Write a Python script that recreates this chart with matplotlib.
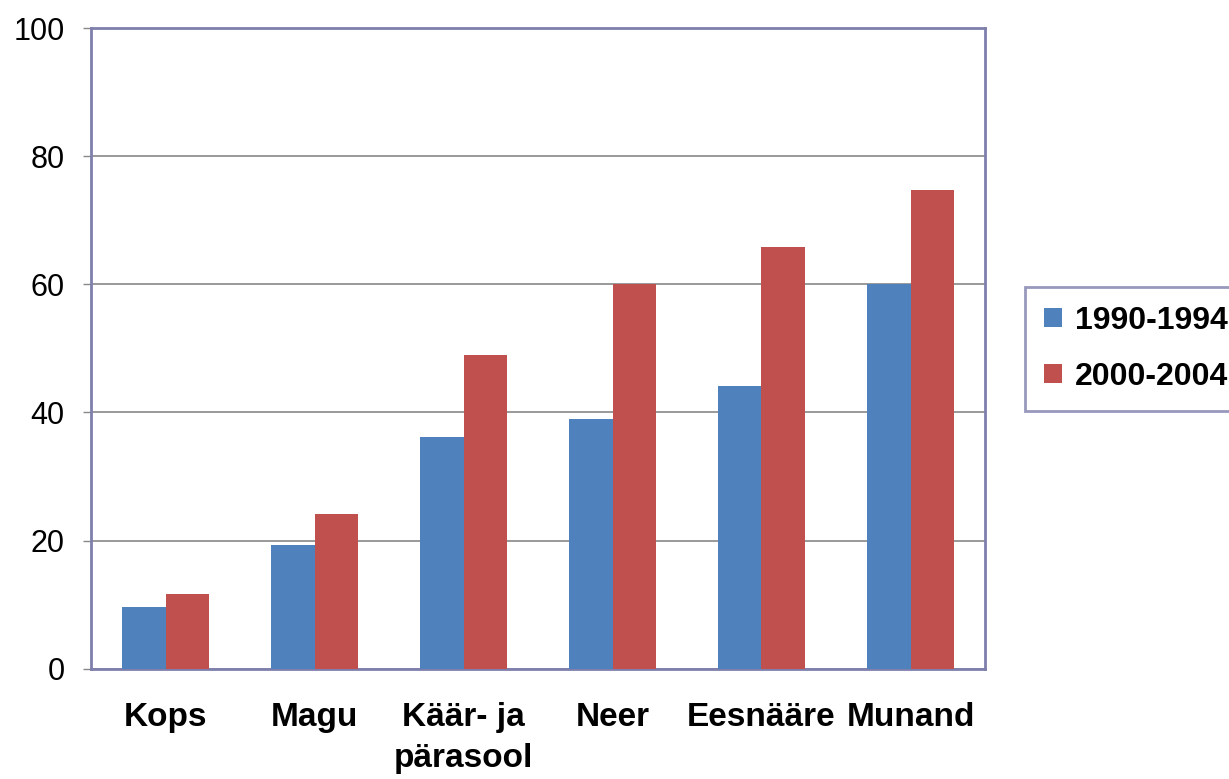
import matplotlib
matplotlib.use("Agg")
import matplotlib.pyplot as plt
import numpy as np

categories = ["Kops", "Magu", "Käär- ja\npärasool", "Neer", "Eesnääre", "Munand"]
series_names = ["1990-1994", "2000-2004"]
values_1990 = [9.6, 19.3, 36.2, 38.9, 44.2, 60.0]
values_2000 = [11.6, 24.1, 49.0, 60.0, 65.8, 74.7]
yticks = [0, 20, 40, 60, 80, 100]

plt.rcParams['font.family'] = ['Liberation Sans', 'DejaVu Sans']

fig = plt.figure(figsize=(12.29, 7.79), dpi=100)
W, H = 1229, 779
ax = fig.add_axes([91 / W, 1 - 668.7 / H, (985 - 91) / W, (668.7 - 28) / H])

x = np.arange(len(categories))
bw = 0.29
blue = "#4f81bd"
red = "#c0504d"
ax.bar(x - bw / 2, values_1990, bw, color=blue, label=series_names[0], zorder=3)
ax.bar(x + bw / 2, values_2000, bw, color=red, label=series_names[1], zorder=3)

ax.set_xlim(-0.5, len(categories) - 0.5)
ax.set_ylim(0, 100)
ax.set_yticks(yticks)
ax.set_yticklabels([str(t) for t in yticks], fontsize=22)
ax.set_xticks(x)
ax.set_xticklabels(categories, fontsize=24, fontweight='bold', linespacing=1.42, va='top')
ax.tick_params(axis='x', length=0, pad=24)
ax.tick_params(axis='y', length=6, width=1, color='#888888', pad=13, direction='out')

ax.grid(axis='y', color='#888888', linewidth=1.2, zorder=0)
spine_c = '#7f7fad'
for s in ax.spines.values():
    s.set_color(spine_c)
    s.set_linewidth(2)

leg = fig.legend(loc='upper left', bbox_to_anchor=(1025 / W, 1 - 287 / H),
                 bbox_transform=fig.transFigure, frameon=True, fancybox=False,
                 prop={'weight': 'bold', 'size': 23}, handlelength=0.55, handleheight=0.55,
                 handletextpad=0.42, labelspacing=0.8, borderpad=0.6, borderaxespad=0)
leg.get_frame().set_edgecolor(spine_c)
leg.get_frame().set_linewidth(2)

fig.savefig("out.png", dpi=100)
